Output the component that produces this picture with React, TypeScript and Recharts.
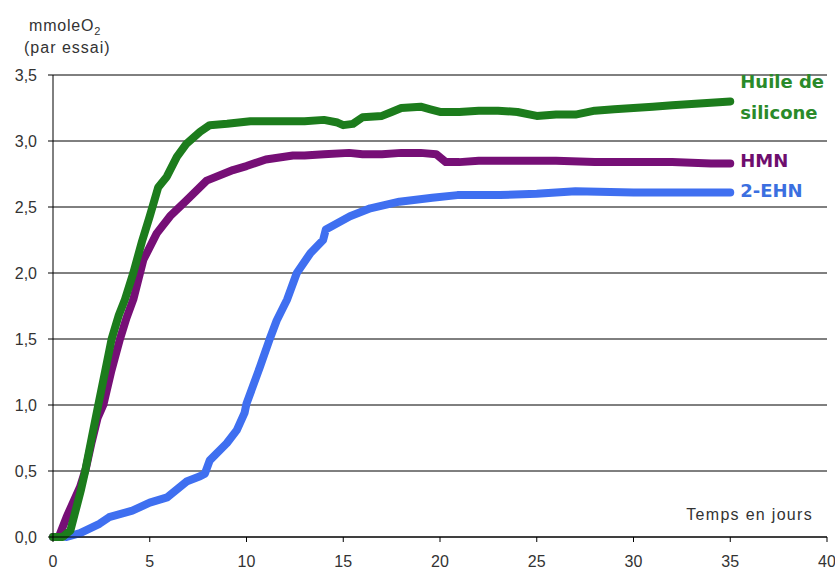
import React from "react";
import { LineChart, Line, XAxis, YAxis, CartesianGrid } from "recharts";

const siliconeX = [0, 0.5, 0.9, 1.22, 1.45, 1.65, 2.0, 2.34, 2.7, 3.03, 3.4, 3.72, 4.15, 4.6, 5.0, 5.44, 5.88, 6.4, 6.9, 7.6, 8.1, 9, 10.2, 11, 12, 13, 14, 14.7, 15, 15.5, 16, 17, 17.5, 18, 19, 19.5, 20, 21, 22, 23, 24, 25, 26, 27, 28, 29, 30, 31, 32, 33, 34, 35];
const siliconeY = [0, 0, 0.05, 0.23, 0.36, 0.49, 0.75, 1.0, 1.26, 1.5, 1.68, 1.8, 2.0, 2.24, 2.43, 2.65, 2.73, 2.88, 2.98, 3.07, 3.12, 3.13, 3.15, 3.15, 3.15, 3.15, 3.16, 3.14, 3.12, 3.13, 3.18, 3.19, 3.22, 3.25, 3.26, 3.24, 3.22, 3.22, 3.23, 3.23, 3.22, 3.19, 3.2, 3.2, 3.23, 3.24, 3.25, 3.26, 3.27, 3.28, 3.29, 3.3];

const hmnX = [0, 0.3, 0.7, 1.0, 1.4, 1.7, 2.0, 2.3, 2.6, 3.0, 3.46, 3.8, 4.15, 4.67, 5.36, 6.05, 6.9, 7.94, 9.3, 10, 11, 12.4, 13, 14, 15.3, 16, 17, 18, 19, 19.8, 20.3, 21, 22, 24, 26, 28, 30, 32, 34, 35];
const hmnY = [0, 0, 0.15, 0.25, 0.38, 0.52, 0.72, 0.9, 1.0, 1.25, 1.5, 1.66, 1.8, 2.1, 2.3, 2.43, 2.55, 2.7, 2.78, 2.81, 2.86, 2.89, 2.89, 2.9, 2.91, 2.9, 2.9, 2.91, 2.91, 2.9, 2.84, 2.84, 2.85, 2.85, 2.85, 2.84, 2.84, 2.84, 2.83, 2.83];

const ehnX = [0.7, 1.4, 2.4, 2.9, 4.1, 5.0, 5.9, 6.9, 7.6, 7.85, 8.1, 8.98, 9.5, 9.9, 10.0, 10.7, 11.2, 11.56, 12.1, 12.6, 13.3, 13.96, 14.1, 15.35, 16.4, 17.9, 19.6, 20.9, 23.1, 25, 27, 30, 35];
const ehnY = [0, 0.03, 0.1, 0.15, 0.2, 0.26, 0.3, 0.42, 0.46, 0.48, 0.58, 0.71, 0.81, 0.94, 1.01, 1.29, 1.5, 1.64, 1.8, 2.0, 2.15, 2.25, 2.33, 2.43, 2.49, 2.54, 2.57, 2.59, 2.59, 2.6, 2.62, 2.61, 2.61];

const xTicks = [0, 5, 10, 15, 20, 25, 30, 35, 40];
const yTicks = [0, 0.5, 1, 1.5, 2, 2.5, 3, 3.5];

const seriesNames = ["Huile de silicone", "HMN", "2-EHN"];

const toRows = (xs: number[], ys: number[]) => xs.map((x, i) => ({ x, y: ys[i] }));
const silicone = toRows(siliconeX, siliconeY);
const hmn = toRows(hmnX, hmnY);
const ehn = toRows(ehnX, ehnY);

const FONT = "'Liberation Sans', Arial, sans-serif";
const LFONT = "'DejaVu Sans', Verdana, sans-serif";

const makeEndLabel = (len: number, lines: string[], color: string, dys: number[]) => (props: any) => {
  const { x, y, index } = props;
  if (index !== len - 1) return <g key={`l${index}`} />;
  return (
    <text key={`l${index}`} fill={color} fontFamily={LFONT} fontWeight="bold" fontSize={18}>
      {lines.map((t, i) => (
        <tspan key={i} x={x + 10} y={y + dys[i]}>{t}</tspan>
      ))}
    </text>
  );
};

export default function App() {
  return (
    <div style={{ position: "absolute", left: 0, top: 0, width: 835, height: 571, background: "#fff" }}>
      <LineChart width={835} height={571} margin={{ top: 75, right: 8, bottom: 9, left: 0 }}>
        <CartesianGrid horizontal={true} vertical={false} stroke="#000" strokeWidth={1} />
        <XAxis
          type="number"
          dataKey="x"
          domain={[0, 40]}
          ticks={xTicks}
          allowDuplicatedCategory={false}
          height={25}
          tickSize={5}
          tickMargin={14}
          stroke="#000"
          tick={{ fill: "#333", fontSize: 16, fontFamily: FONT }}
        />
        <YAxis
          type="number"
          domain={[0, 3.5]}
          ticks={yTicks}
          width={53}
          tickSize={5}
          tickMargin={11}
          stroke="#000"
          tickFormatter={(v: number) => v.toFixed(1).replace(".", ",")}
          tick={{ fill: "#333", fontSize: 16, fontFamily: FONT }}
        />
        <Line
          data={ehn}
          dataKey="y"
          name={seriesNames[2]}
          stroke="#3f6ff0"
          strokeWidth={8}
          strokeLinecap="round"
          strokeLinejoin="round"
          dot={false}
          isAnimationActive={false}
          label={makeEndLabel(ehn.length, ["2-EHN"], "#3b6fe0", [4.5])}
        />
        <Line
          data={hmn}
          dataKey="y"
          name={seriesNames[1]}
          stroke="#760f76"
          strokeWidth={8}
          strokeLinecap="round"
          strokeLinejoin="round"
          dot={false}
          isAnimationActive={false}
          label={makeEndLabel(hmn.length, ["HMN"], "#6e0e6e", [4])}
        />
        <Line
          data={silicone}
          dataKey="y"
          name={seriesNames[0]}
          stroke="#1c7c1c"
          strokeWidth={8}
          strokeLinecap="round"
          strokeLinejoin="round"
          dot={false}
          isAnimationActive={false}
          label={makeEndLabel(silicone.length, ["Huile de", "silicone"], "#2a8a2a", [-13, 18])}
        />
      </LineChart>
      <svg width={835} height={571} style={{ position: "absolute", left: 0, top: 0, pointerEvents: "none" }}>
        <text x={29} y={31} fontFamily={FONT} fontSize={16} fill="#333" letterSpacing={0.8}>
          mmoleO<tspan fontSize={11} dy={4}>2</tspan>
        </text>
        <text x={24} y={53} fontFamily={FONT} fontSize={16} fill="#333" letterSpacing={1}>(par essai)</text>
        <text x={813} y={520} textAnchor="end" fontFamily={FONT} fontSize={16} fill="#333" letterSpacing={1.3}>Temps en jours</text>
      </svg>
    </div>
  );
}
